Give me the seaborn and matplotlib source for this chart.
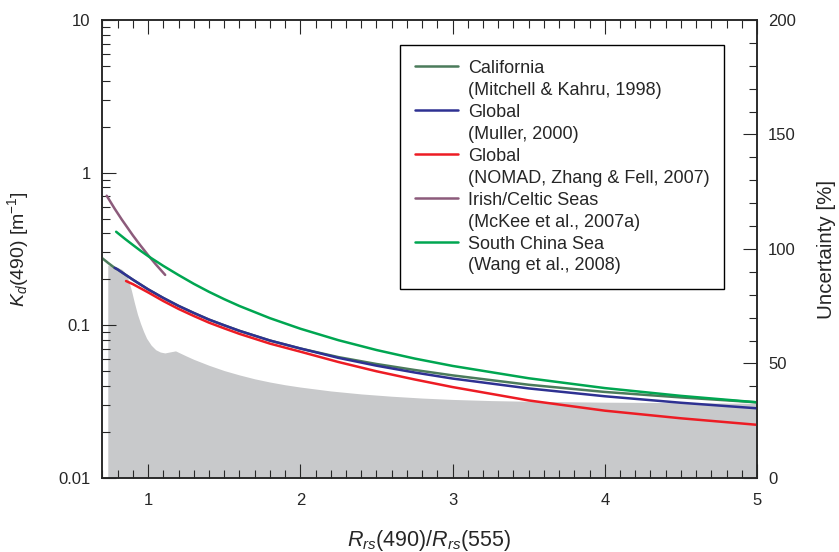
import matplotlib
matplotlib.use("Agg")
import numpy as np
import pandas as pd
import matplotlib.pyplot as plt
import seaborn as sns
from matplotlib.lines import Line2D
from matplotlib.ticker import FixedLocator, MultipleLocator, NullFormatter

# ---- band ratio Rrs(490)/Rrs(555) and Kd(490) [1/m] for each algorithm ----
california_ratio = [0.695, 0.74, 0.78, 0.8, 0.9, 1.0, 1.1, 1.2, 1.3, 1.4, 1.5, 1.6, 1.8, 2.0,
                    2.25, 2.5, 2.75, 3.0, 3.5, 4.0, 4.5, 5.0]
california_kd = [0.277, 0.255, 0.238, 0.232, 0.199, 0.172, 0.151, 0.134, 0.1205, 0.109,
                 0.100, 0.092, 0.0795, 0.0705, 0.0619, 0.0558, 0.0510, 0.0470, 0.0408,
                 0.0366, 0.0337, 0.0313]

muller_ratio = [0.78, 0.8, 0.9, 1.0, 1.1, 1.2, 1.3, 1.4, 1.5, 1.6, 1.8, 2.0,
                2.25, 2.5, 2.75, 3.0, 3.5, 4.0, 4.5, 5.0]
muller_kd = [0.238, 0.232, 0.199, 0.172, 0.151, 0.134, 0.1205, 0.109, 0.100, 0.092, 0.0795,
             0.0705, 0.0612, 0.0544, 0.0491, 0.0448, 0.0386, 0.0343, 0.0311, 0.0286]

nomad_ratio = [0.855, 0.9, 1.0, 1.1, 1.2, 1.3, 1.4, 1.5, 1.6, 1.8, 2.0,
               2.25, 2.5, 2.75, 3.0, 3.5, 4.0, 4.5, 5.0]
nomad_kd = [0.195, 0.186, 0.1643, 0.1442, 0.128, 0.1151, 0.1041, 0.0955, 0.0879, 0.0759,
            0.0672, 0.0575, 0.0500, 0.0442, 0.0394, 0.0322, 0.0276, 0.0246, 0.0223]

irish_ratio = [0.728, 0.78, 0.827, 0.9, 0.947, 1.0, 1.05, 1.112]
irish_kd = [0.706, 0.581, 0.493, 0.388, 0.336, 0.288, 0.251, 0.2139]

scs_ratio = [0.79, 0.85, 0.9, 0.95, 1.0, 1.1, 1.2, 1.3, 1.4, 1.5, 1.6, 1.8, 2.0,
             2.25, 2.5, 2.75, 3.0, 3.5, 4.0, 4.5, 5.0]
scs_kd = [0.410, 0.367, 0.336, 0.308, 0.284, 0.245, 0.2134, 0.187, 0.1657, 0.1483, 0.1338,
          0.1114, 0.095, 0.0799, 0.0689, 0.0606, 0.0542, 0.0450, 0.0388, 0.0345, 0.0313]

# ---- retrieval uncertainty [%] (shaded area, right axis) ----
unc_ratio = [0.735, 0.79, 0.83, 0.85, 0.87, 0.89, 0.91, 0.93, 0.95, 0.97, 0.99, 1.02,
             1.05, 1.08, 1.11, 1.14, 1.18, 1.25, 1.3, 1.4, 1.5, 1.6, 1.7, 1.8, 1.9,
             2.0, 2.2, 2.4, 2.6, 2.8, 3.0, 3.25, 3.5, 4.0, 4.5, 5.0]
unc_pct = [93.0, 92.3, 91.0, 89.5, 86.5, 82.0, 76.5, 71.5, 67.5, 64.0, 61.0, 58.0,
           56.0, 55.0, 54.6, 55.0, 55.5, 53.3, 51.8, 49.2, 46.9, 45.0, 43.3, 41.9, 40.7,
           39.7, 38.0, 36.7, 35.7, 34.9, 34.3, 33.8, 33.5, 33.1, 32.9, 32.6]

series_names = ["California", "Global", "Global", "Irish/Celtic Seas", "South China Sea"]
series_refs = ["(Mitchell & Kahru, 1998)", "(Muller, 2000)", "(NOMAD, Zhang & Fell, 2007)",
               "(McKee et al., 2007a)", "(Wang et al., 2008)"]
series_colors = ["#4b7b5b", "#2e3192", "#ed1c24", "#8c5b7b", "#00a651"]

left_ticks = [0.01, 0.1, 1, 10]
left_tick_labels = ["0.01", "0.1", "1", "10"]
x_ticks = [1, 2, 3, 4, 5]
right_ticks = [0, 50, 100, 150, 200]

sns.set_theme(style="ticks")
plt.rcParams["font.family"] = ["Liberation Sans", "DejaVu Sans"]
plt.rcParams["mathtext.fontset"] = "custom"
plt.rcParams["mathtext.rm"] = "Liberation Sans"
plt.rcParams["mathtext.it"] = "Liberation Sans:italic"
plt.rcParams["axes.linewidth"] = 1.1

fig = plt.figure(figsize=(8.39, 5.52), dpi=100)
ax = fig.add_axes([0.1212, 0.1341, 0.7811, 0.8297])
ax2 = ax.twinx()

# uncertainty area on the right-hand axis, kept behind the Kd curves
ax2.fill_between(unc_ratio, 0, unc_pct, color="#c8c9cb", lw=0)
ax2.set_ylim(0, 200)
ax.set_zorder(ax2.get_zorder() + 1)
ax.patch.set_visible(False)

frames = [
    pd.DataFrame({"ratio": california_ratio, "kd": california_kd}),
    pd.DataFrame({"ratio": muller_ratio, "kd": muller_kd}),
    pd.DataFrame({"ratio": nomad_ratio, "kd": nomad_kd}),
    pd.DataFrame({"ratio": irish_ratio, "kd": irish_kd}),
    pd.DataFrame({"ratio": scs_ratio, "kd": scs_kd}),
]
for df, col in zip(frames, series_colors):
    sns.lineplot(data=df, x="ratio", y="kd", ax=ax, color=col, lw=1.8,
                 estimator=None, sort=False)

ax.set_yscale("log")
ax.set_xlim(0.695, 5)
ax.set_ylim(0.01, 10)
ax.yaxis.set_major_locator(FixedLocator(left_ticks))
ax.set_yticklabels(left_tick_labels)
ax.yaxis.set_minor_locator(FixedLocator(
    [m * 10.0 ** e for e in (-2, -1, 0) for m in range(2, 10)]))
ax.yaxis.set_minor_formatter(NullFormatter())
ax.set_xticks(x_ticks)
ax.xaxis.set_minor_locator(MultipleLocator(0.1))

ax.tick_params(axis="x", which="both", direction="in", top=True, bottom=True,
               labelsize=12, pad=10.5)
ax.tick_params(axis="y", which="both", direction="in", left=True, right=False,
               labelsize=12, pad=8)
ax.tick_params(which="major", length=10, width=0.8)
ax.tick_params(which="minor", length=5.5, width=0.8)

ax2.set_yticks(right_ticks)
ax2.yaxis.set_minor_locator(MultipleLocator(10))
ax2.tick_params(axis="y", which="both", direction="in", right=True, left=False,
                labelsize=12, pad=8)
ax2.tick_params(which="major", length=10, width=0.8)
ax2.tick_params(which="minor", length=5.5, width=0.8)

ax.set_xlabel(r"$R_{rs}$(490)/$R_{rs}$(555)", fontsize=15.5, labelpad=15)
ax.set_ylabel(r"$K_d$(490) [m$^{-1}$]", fontsize=14, labelpad=20)
ax2.set_ylabel("Uncertainty [%]", fontsize=14.8, labelpad=15)

# two-line legend entries: coloured handle beside the region, reference below
handles, labels = [], []
for name, ref, col in zip(series_names, series_refs, series_colors):
    handles.append(Line2D([], [], color=col, lw=1.8))
    labels.append(name)
    handles.append(Line2D([], [], color="none"))
    labels.append(ref)
leg = ax.legend(handles, labels, loc="upper right", bbox_to_anchor=(0.9497, 0.9454),
                borderaxespad=0, fontsize=13, frameon=True, fancybox=False,
                edgecolor="black", framealpha=1, labelspacing=0.275,
                handlelength=2.38, handletextpad=0.54, borderpad=0.82)
leg.get_frame().set_linewidth(1.0)

fig.savefig("out.png", dpi=100)
